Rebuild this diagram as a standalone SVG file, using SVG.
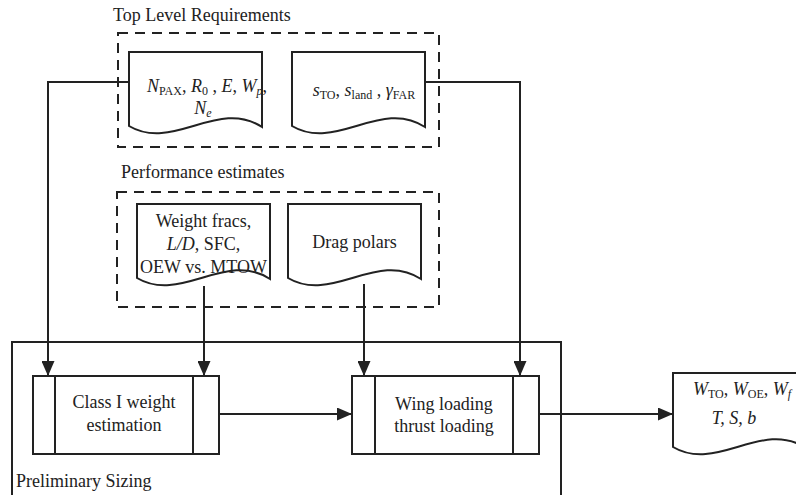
<svg xmlns="http://www.w3.org/2000/svg" width="796" height="495" viewBox="0 0 796 495">
<style>
.t{font-family:"Liberation Serif","Times New Roman",serif;font-size:18px;fill:#222}
.s{font-size:12px}
.i{font-style:italic}
.doc{fill:#fff;stroke:#222;stroke-width:2}
.box{fill:#fff;stroke:#222;stroke-width:2}
.dash{fill:none;stroke:#222;stroke-width:2;stroke-dasharray:10 7}
.ln{fill:none;stroke:#222;stroke-width:2}
</style>
<defs>
<marker id="ah" markerUnits="userSpaceOnUse" markerWidth="15" markerHeight="13" viewBox="0 0 15 13" refX="15" refY="6.5" orient="auto">
<path d="M0,0 L15,6.5 L0,13 z" fill="#222"/>
</marker>
<path id="docshape" d="M0,0 H133 V75 C89,46 44,100 0,74 Z"/>
</defs>

<g id="frame-top">
<rect class="dash" x="118" y="33" width="321" height="114"/>
<text class="t" x="113" y="21">Top Level Requirements</text>
</g>
<g id="frame-perf">
<rect class="dash" x="117" y="192" width="322" height="115"/>
<text class="t" x="121" y="178">Performance estimates</text>
</g>
<g id="frame-sizing">
<path class="ln" d="M12,496 V342 H561 V496"/>
<text class="t" x="16" y="487">Preliminary Sizing</text>
</g>

<g id="connectors">
<path class="ln" d="M129,82 H48 V376" marker-end="url(#ah)"/>
<path class="ln" d="M424,82 H520 V376" marker-end="url(#ah)"/>
<path class="ln" d="M204,286 V376" marker-end="url(#ah)"/>
<path class="ln" d="M364,284 V376" marker-end="url(#ah)"/>
<path class="ln" d="M219,414 H352" marker-end="url(#ah)"/>
<path class="ln" d="M539,414 H673" marker-end="url(#ah)"/>
</g>

<g id="doc-req1">
<use href="#docshape" class="doc" x="129" y="52"/>
<text class="t" x="207" y="92" text-anchor="middle"><tspan class="i">N</tspan><tspan class="s" dy="3">PAX</tspan><tspan dy="-3">, </tspan><tspan class="i">R</tspan><tspan class="s" dy="3">0</tspan><tspan dy="-3"> , </tspan><tspan class="i">E</tspan>, <tspan class="i">W</tspan><tspan class="s i" dy="3">p</tspan><tspan dy="-3">,</tspan></text>
<text class="t" x="203" y="114" text-anchor="middle"><tspan class="i">N</tspan><tspan class="s i" dy="3">e</tspan></text>
</g>

<g id="doc-req2">
<use href="#docshape" class="doc" x="292" y="52"/>
<text class="t" x="364" y="96" text-anchor="middle"><tspan class="i">s</tspan><tspan class="s" dy="3">TO</tspan><tspan dy="-3">, </tspan><tspan class="i">s</tspan><tspan class="s" dy="3">land</tspan><tspan dy="-3"> , </tspan><tspan class="i">γ</tspan><tspan class="s" dy="3">FAR</tspan></text>
</g>

<g id="doc-weight">
<use href="#docshape" class="doc" x="137" y="204"/>
<text class="t" x="203.5" y="227" text-anchor="middle">Weight fracs,</text>
<text class="t" x="203.5" y="250" text-anchor="middle"><tspan class="i">L/D</tspan>, SFC,</text>
<text class="t" x="203.5" y="273" text-anchor="middle">OEW vs. MTOW</text>
</g>

<g id="doc-drag">
<use href="#docshape" class="doc" x="288" y="204"/>
<text class="t" x="354.5" y="248" text-anchor="middle">Drag polars</text>
</g>

<g id="proc-class1">
<rect class="box" x="33" y="376" width="186" height="78"/>
<path class="ln" d="M55,376 V454 M193,376 V454"/>
<text class="t" x="124" y="408" text-anchor="middle">Class I weight</text>
<text class="t" x="124" y="431" text-anchor="middle">estimation</text>
</g>

<g id="proc-wing">
<rect class="box" x="352" y="376" width="187" height="78"/>
<path class="ln" d="M375,376 V454 M513,376 V454"/>
<text class="t" x="444" y="410" text-anchor="middle">Wing loading</text>
<text class="t" x="444" y="432" text-anchor="middle">thrust loading</text>
</g>

<g id="doc-output">
<use href="#docshape" class="doc" x="673" y="373"/>
<text class="t" x="742" y="395" text-anchor="middle"><tspan class="i">W</tspan><tspan class="s" dy="3">TO</tspan><tspan dy="-3">,  </tspan><tspan class="i">W</tspan><tspan class="s" dy="3">OE</tspan><tspan dy="-3">, </tspan><tspan class="i">W</tspan><tspan class="s i" dy="3">f</tspan></text>
<text class="t i" x="734" y="424" text-anchor="middle">T, S, b</text>
</g>
</svg>
